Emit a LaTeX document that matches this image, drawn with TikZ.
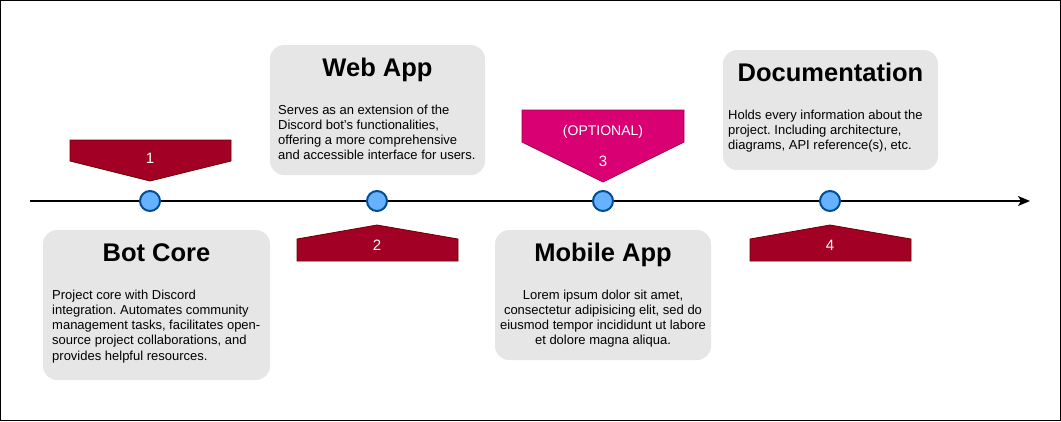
\documentclass[tikz,border=0pt]{standalone}
\usepackage{fontspec}
\setmainfont{Liberation Sans}
\usetikzlibrary{arrows.meta}
\frenchspacing
\definecolor{boxgray}{HTML}{E6E6E6}
\definecolor{mred}{HTML}{A20025}
\definecolor{mredline}{HTML}{6F0000}
\definecolor{mpink}{HTML}{D80073}
\definecolor{mpinkline}{HTML}{A50040}
\definecolor{dotfill}{HTML}{66B2FF}
\definecolor{dotline}{HTML}{004C99}
\tikzset{
  card/.style={fill=boxgray, draw=none, rounded corners=14pt},
  cardtitle/.style={font=\fontsize{25.5}{30}\selectfont\bfseries, inner sep=0pt, anchor=base},
  cardbody/.style={font=\fontsize{13}{15.3}\selectfont\frenchspacing, inner sep=0pt, anchor=base west, align=left},
  cardbodyc/.style={font=\fontsize{13}{15.3}\selectfont\frenchspacing, inner sep=0pt, anchor=base, align=center},
  redmark/.style={fill=mred, draw=mredline, line width=0.8pt},
  pinkmark/.style={fill=mpink, draw=mpinkline, line width=0.8pt},
  marktext/.style={text=white, font=\fontsize{15}{18}\selectfont, inner sep=0pt, anchor=base},
  dot/.style={circle, fill=dotfill, draw=dotline, line width=2pt, minimum size=20pt, inner sep=0pt},
  timeline/.style={line width=1.5pt, -{Stealth[length=12pt,width=10pt,inset=3pt]}}
}
\begin{document}
\begin{tikzpicture}[x=1pt,y=-1pt]
\useasboundingbox (0,0) rectangle (1061,421);
\draw[line width=1pt] (0.5,0.5) rectangle (1060.5,420.5);

% timeline
\coordinate (tstart) at (30,201);
\coordinate (tend) at (1030,201);
\draw[timeline] (tstart) -- (tend);

% dots
\node[dot] (c1) at (150,201) {};
\node[dot] (c2) at (377,201) {};
\node[dot] (c3) at (603,201) {};
\node[dot] (c4) at (830,201) {};

% markers
\draw[redmark] (70,140) -- (231,140) -- (231,161) -- (150,181) -- (70,161) -- cycle;
\node[marktext] (m1) at (150,163) {1};
\draw[redmark] (297,261) -- (458,261) -- (458,239) -- (377,225) -- (297,239) -- cycle;
\node[marktext] (m2) at (377,250) {2};
\draw[pinkmark] (522,110) -- (684,110) -- (684,142) -- (603,182) -- (522,142) -- cycle;
\node[marktext, font=\fontsize{14}{17}\selectfont] (m3a) at (603,135) {(OPTIONAL)};
\node[marktext] (m3) at (603,166) {3};
\draw[redmark] (750,261) -- (911,261) -- (911,239) -- (830,225) -- (750,239) -- cycle;
\node[marktext] (m4) at (830,250) {4};

% cards (body nodes anchored at the baseline of their LAST line)
\fill[card] (43,230) rectangle (270,380);
\node[cardtitle] (t1) at (156.5,261) {Bot Core};
\node[cardbody] (b1) at (52,360.2) {Project core with Discord\\integration. Automates community\\management tasks, facilitates open-\\source project collaborations, and\\provides helpful resources.};

\fill[card] (270,45) rectangle (485,175);
\node[cardtitle] (t2) at (377.5,76) {Web App};
\node[cardbody] (b2) at (278,159.9) {Serves as an extension of the\\Discord bot's functionalities,\\offering a more comprehensive\\and accessible interface for users.};

\fill[card] (495,230) rectangle (711,360);
\node[cardtitle] (t3) at (603,261) {Mobile App};
\node[cardbodyc] (b3) at (603,344.9) {Lorem ipsum dolor sit amet,\\consectetur adipisicing elit, sed do\\eiusmod tempor incididunt ut labore\\et dolore magna aliqua.};

\fill[card] (723,50) rectangle (938,170);
\node[cardtitle] (t4) at (830.5,81) {Documentation};
\node[cardbody] (b4) at (728,149.6) {Holds every information about the\\project. Including architecture,\\diagrams, API reference(s), etc.};
\end{tikzpicture}
\end{document}
